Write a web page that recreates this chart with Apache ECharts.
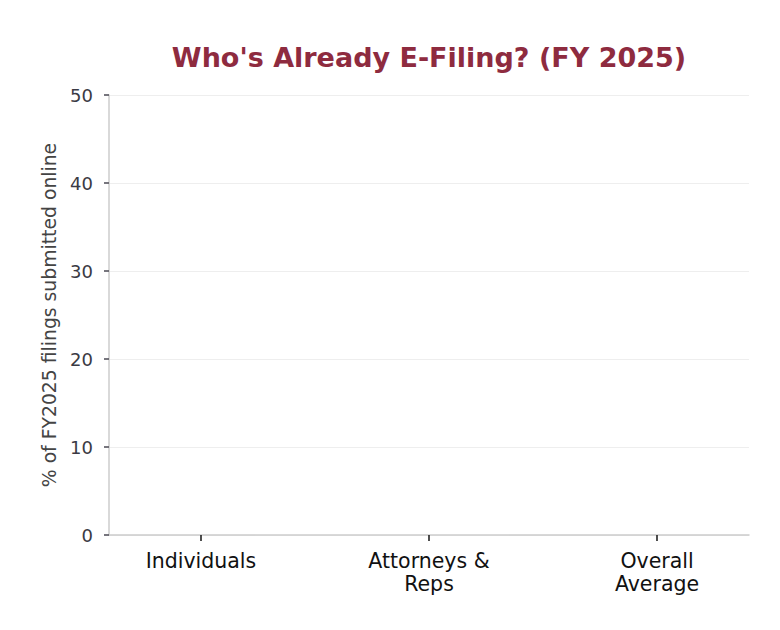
<!DOCTYPE html>
<html>
<head>
<meta charset="utf-8">
<script src="https://cdn.jsdelivr.net/npm/echarts@6/dist/echarts.min.js"></script>
<style>html,body{margin:0;padding:0;background:#fff}#c{width:780px;height:630px}</style>
</head>
<body>
<div id="c"></div>
<script>
// Data (no bars are visible in the reference; values unreadable -> null)
var categories = ['Individuals', 'Attorneys &\nReps', 'Overall\nAverage'];
var eFilingShare = [null, null, null];
var yTicks = [0, 10, 20, 30, 40, 50];

var chart = echarts.init(document.getElementById('c'), null, {renderer: 'svg'});
var font = 'DejaVu Sans';
chart.setOption({
  animation: false,
  title: {
    text: "Who's Already E-Filing? (FY 2025)",
    left: 424, textAlign: 'center', top: 39,
    textStyle: {fontFamily: font, fontSize: 27, fontWeight: 'bold', color: '#8e2b3f'}
  },
  grid: {left: 109, right: 31, top: 95, bottom: 95, containLabel: false},
  xAxis: {
    type: 'value',
    min: -0.4035, max: 2.4035,
    axisLine: {show: true, onZero: false, lineStyle: {color: '#cccccc', width: 1.5}},
    splitLine: {show: false},
    axisTick: {show: true, customValues: [0, 1, 2], length: 6, lineStyle: {color: '#222222', width: 1.6}},
    axisLabel: {
      customValues: [0, 1, 2],
      formatter: function (v) { return categories[Math.round(v)]; },
      fontFamily: font, fontSize: 20.5, color: '#111111', margin: 14, lineHeight: 23
    }
  },
  yAxis: {
    type: 'value', min: 0, max: 50, interval: 10,
    name: '% of FY2025 filings submitted online',
    nameLocation: 'middle', nameGap: 48,
    nameTextStyle: {fontFamily: font, fontSize: 18.8, color: '#444444'},
    axisLine: {show: true, onZero: false, lineStyle: {color: '#cccccc', width: 1.5}},
    axisTick: {show: true, length: 5, lineStyle: {color: '#55545e', width: 1.6}},
    axisLabel: {fontFamily: font, fontSize: 18, color: '#3a3a44', margin: 16},
    splitLine: {show: true, lineStyle: {color: '#eeeeee', width: 1.2}}
  },
  series: [{
    type: 'bar',
    barWidth: 130,
    itemStyle: {color: '#8e2b3f'},
    data: eFilingShare.map(function (v, i) { return [i, v]; })
  }]
});
</script>
</body>
</html>
